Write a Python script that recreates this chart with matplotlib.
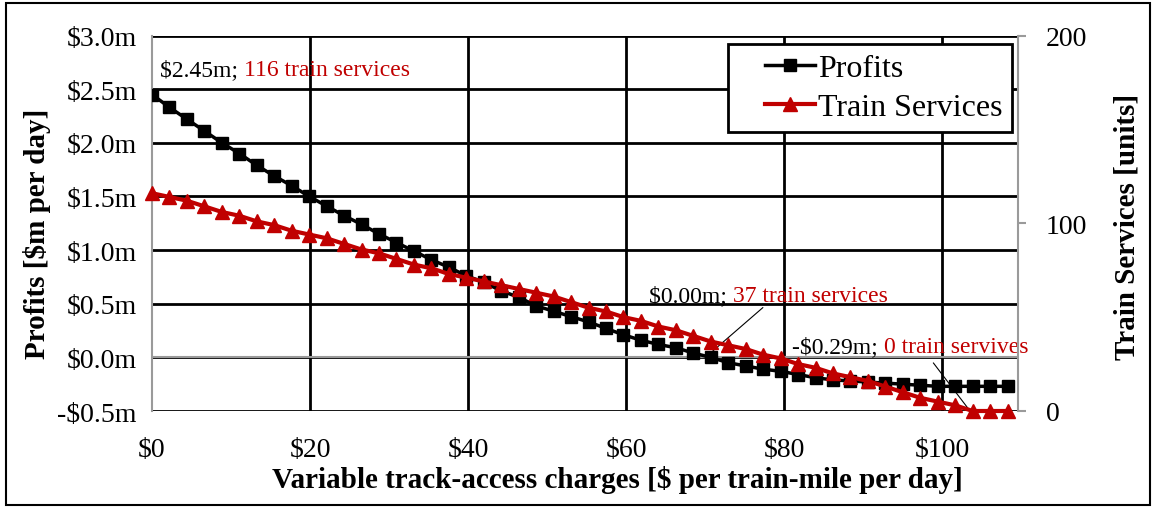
import matplotlib
matplotlib.use("Agg")
import numpy as np
import matplotlib.pyplot as plt
from matplotlib.patches import Rectangle
from matplotlib.lines import Line2D
from matplotlib.legend_handler import HandlerLine2D

plt.rcParams['font.family'] = ['Liberation Serif', 'DejaVu Serif']

# ---- data ----
charges = [0.0, 2.21, 4.42, 6.63, 8.84, 11.05, 13.26, 15.47, 17.68, 19.89,
           22.1, 24.31, 26.52, 28.73, 30.94, 33.15, 35.36, 37.57, 39.78, 41.99,
           44.2, 46.41, 48.62, 50.83, 53.04, 55.25, 57.46, 59.67, 61.88, 64.09,
           66.3, 68.51, 70.72, 72.93, 75.14, 77.35, 79.56, 81.77, 83.98, 86.19,
           88.4, 90.61, 92.82, 95.03, 97.24, 99.45, 101.66, 103.87, 106.08, 108.29]
profits = [2.45, 2.33, 2.22, 2.11, 2.00, 1.90, 1.79, 1.69, 1.60, 1.50,
           1.41, 1.32, 1.24, 1.15, 1.07, 0.99, 0.91, 0.84, 0.76, 0.70,
           0.62, 0.56, 0.48, 0.43, 0.38, 0.33, 0.27, 0.21, 0.16, 0.12,
           0.09, 0.04, 0.00, -0.05, -0.08, -0.11, -0.13, -0.16, -0.19, -0.21,
           -0.22, -0.23, -0.24, -0.25, -0.26, -0.27, -0.27, -0.27, -0.27, -0.27]
trains = [116, 114, 112, 109, 106, 104, 101, 99, 96, 94,
          92, 89, 86, 84, 81, 78, 76, 73, 71, 69,
          67, 65, 63, 61, 58, 55, 53, 50, 48, 45,
          43, 40, 37, 35, 33, 30, 28, 25, 23, 20,
          18, 16, 13, 10, 7, 5, 3, 0, 0, 0]
x_ticks = [0, 20, 40, 60, 80, 100]
x_labels = ['$0', '$20', '$40', '$60', '$80', '$100']
y_ticks = [-0.5, 0.0, 0.5, 1.0, 1.5, 2.0, 2.5, 3.0]
y_labels = ['-$0.5m', '$0.0m', '$0.5m', '$1.0m', '$1.5m', '$2.0m', '$2.5m', '$3.0m']
y2_ticks = [0, 100, 200]

RED = '#C00000'
GRAY = '#9a9a9a'

fig = plt.figure(figsize=(11.56, 5.10), dpi=100)
ax = fig.add_axes([152/1156, 1-412/510, (1018-152)/1156, (412-36.5)/510])
ax2 = ax.twinx()

ax.set_xlim(0, 109.6)
ax.set_ylim(-0.5, 3.0)
ax2.set_ylim(0, 200)

# grid
for yv in y_ticks:
    ax.axhline(yv, color='black', lw=2, zorder=0.5)
for xv in x_ticks[1:]:
    ax.axvline(xv, color='black', lw=2, zorder=0.5)
ax.axhline(0, color=GRAY, lw=1.5, zorder=0.6)

ax.plot(charges, profits, color='black', lw=2.5, marker='s', markersize=9,
        zorder=3)
ax2.plot(charges, trains, color=RED, lw=3, marker='^', markersize=10,
         zorder=3, clip_on=False)

for s in ['top', 'bottom']:
    ax.spines[s].set_visible(False)
    ax2.spines[s].set_visible(False)
ax.spines['left'].set_color(GRAY)
ax.spines['left'].set_linewidth(1.5)
ax.spines['right'].set_visible(False)
ax2.spines['left'].set_visible(False)
ax2.spines['right'].set_color(GRAY)
ax2.spines['right'].set_linewidth(1.5)

TFS = 20
ax.set_xticks(x_ticks)
ax.set_xticklabels(x_labels, fontsize=TFS)
ax.set_yticks(y_ticks)
ax.set_yticklabels(y_labels, fontsize=TFS)
ax.tick_params(axis='x', length=0, pad=19)
ax.tick_params(axis='y', length=0, pad=11)
ax2.set_yticks(y2_ticks)
ax2.set_yticklabels([str(v) for v in y2_ticks], fontsize=TFS)
ax2.tick_params(axis='y', length=6, width=1.5, color=GRAY, pad=14)

ax.set_xlabel('Variable track-access charges [$ per train-mile per day]',
              fontsize=21, fontweight='bold')
ax.xaxis.set_label_coords(0.537, -0.145)
ax.set_ylabel('Profits [$m per day]', fontsize=21, fontweight='bold')
ax.yaxis.set_label_coords(-0.1166, 0.474)
ax2.set_ylabel('Train Services [units]', fontsize=21, fontweight='bold')
ax2.yaxis.set_label_coords(1.1097, 0.494)


class RightHandler(HandlerLine2D):
    def get_xdata(self, legend, xdescent, ydescent, width, height, fontsize):
        x0 = -xdescent + width * 0.36
        x1 = -xdescent + width
        return np.array([x0, x1]), np.array([(x0 + x1) / 2])


h = [Line2D([], [], color='black', lw=2.5, marker='s', markersize=9),
     Line2D([], [], color=RED, lw=3, marker='^', markersize=10)]
leg = ax2.legend(h, ['Profits', 'Train Services'], loc='upper right',
                 bbox_to_anchor=(0.993, 0.977), borderaxespad=0,
                 fontsize=23, frameon=True, fancybox=False, framealpha=1,
                 edgecolor='black', handlelength=2.44, handletextpad=0.08,
                 borderpad=0.3, labelspacing=0.3,
                 handler_map={Line2D: RightHandler()})
leg.get_frame().set_linewidth(2)
leg.set_zorder(10)


def two_color(axis, x, y, t1, t2, fs=17):
    a = axis.text(x, y, t1, color='black', fontsize=fs, va='center', ha='left', zorder=11)
    axis.annotate(t2, xy=(1, 0), xycoords=a, va='bottom', ha='left',
                  color=RED, fontsize=fs, zorder=11)


two_color(ax, 1.0, 2.68, '$2.45m; ', '116 train services')
two_color(ax, 62.9, 0.575, '$0.00m; ', '37 train services')
two_color(ax, 81.0, 0.10, '-$0.29m; ', '0 train servives')
ax.plot([71.0, 77.3], [0.061, 0.463], color='black', lw=0.8, zorder=4)
ax.plot([98.9, 103.5], [-0.053, -0.497], color='black', lw=0.8, zorder=4)

# figure border
fig.patches.append(Rectangle((6/1156, 4/510), 1-12/1156, 1-8/510,
                             transform=fig.transFigure, fill=False,
                             edgecolor='black', lw=1.5))

fig.savefig('out.png', dpi=100)
